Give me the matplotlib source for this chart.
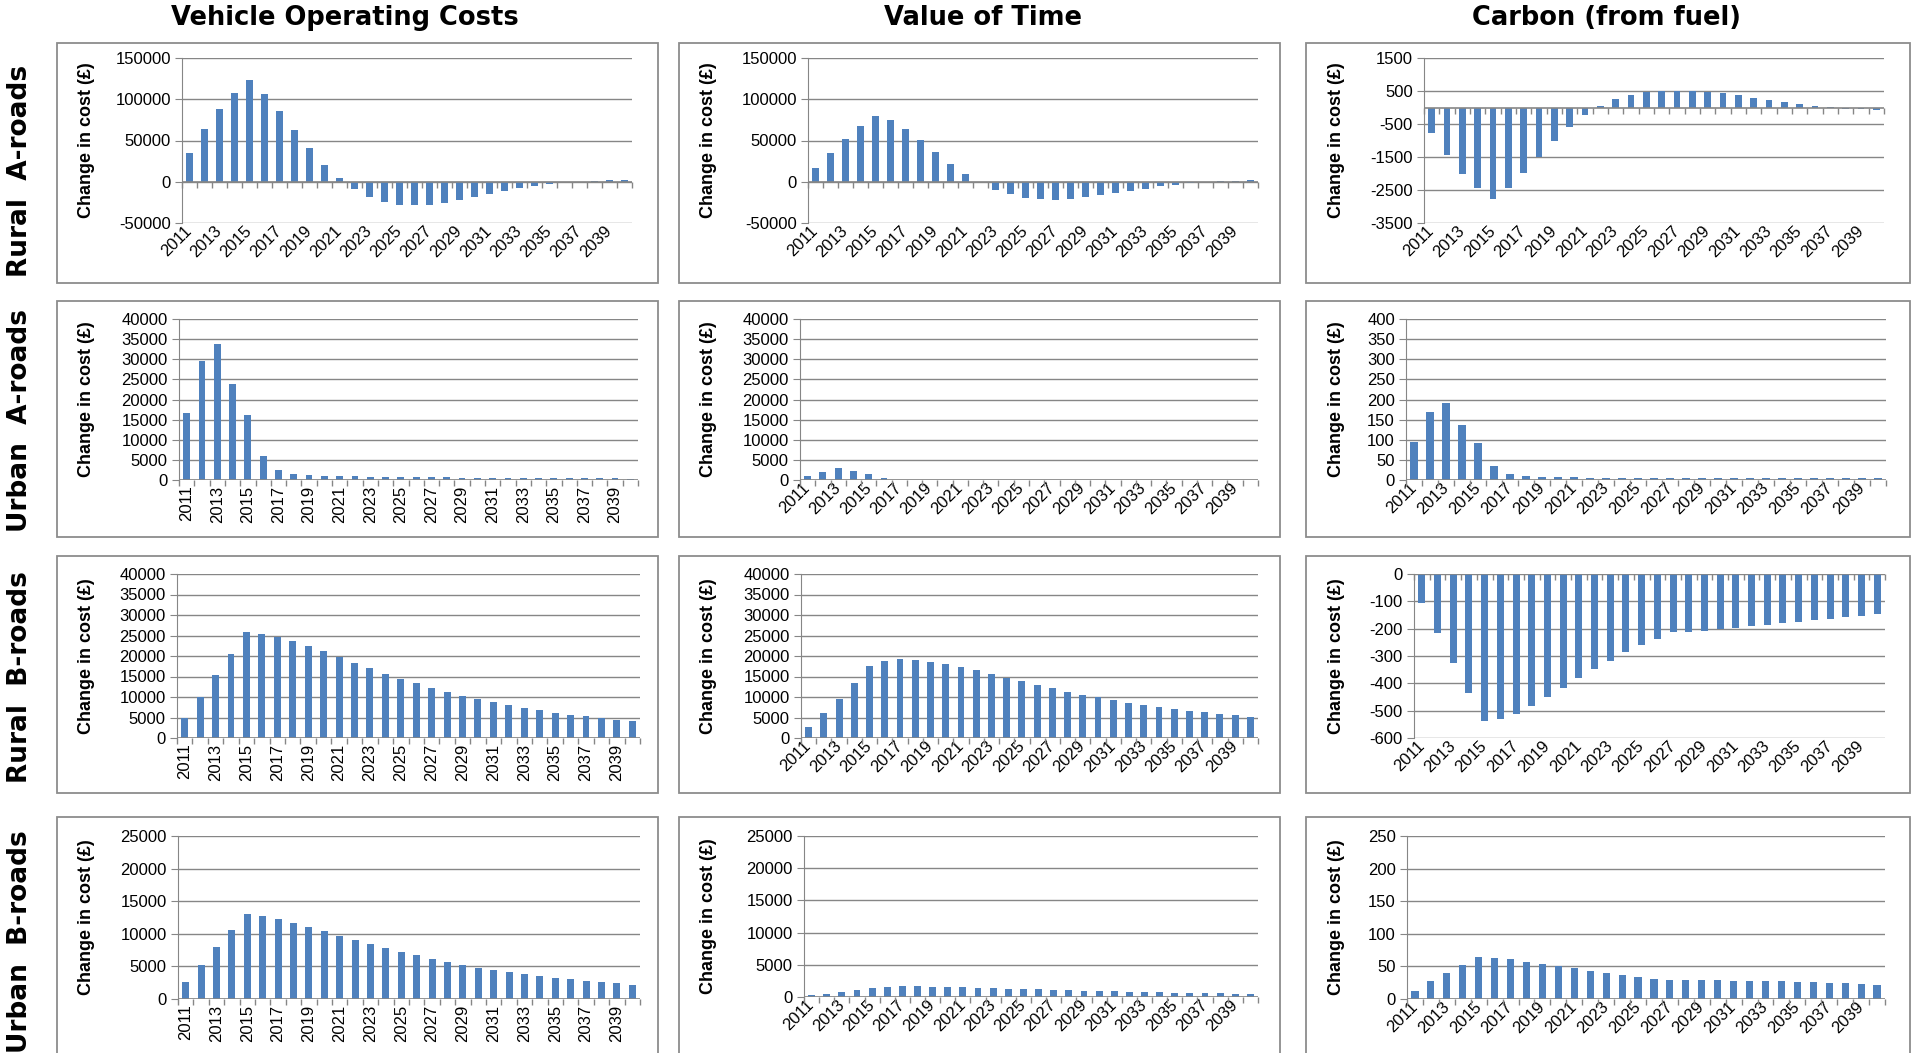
import matplotlib
matplotlib.use("Agg")
import matplotlib.pyplot as plt
import numpy as np
from matplotlib.patches import Rectangle
from matplotlib.ticker import FuncFormatter

plt.rcParams['axes.unicode_minus'] = False

# ---- data -------------------------------------------------------------
years = list(range(2011, 2041))

column_titles = ["Vehicle Operating Costs", "Value of Time", "Carbon (from fuel)"]
row_titles = ["Rural  A-roads", "Urban  A-roads", "Rural  B-roads", "Urban  B-roads"]
y_label = "Change in cost (£)"

voc_rural_a = [35100, 63700, 88200, 107300, 122900, 106100, 85300, 62400, 40400, 20800,
               4100, -8600, -18000, -24100, -27800, -28600, -27800, -25300, -22000, -18800,
               -14700, -11400, -7800, -5300, -2900, -800, 300, 1200, 2000, 2500]
vot_rural_a = [16700, 35100, 52200, 67300, 80000, 74700, 64500, 50600, 35900, 22000,
               9800, -300, -9400, -15100, -19200, -20800, -21600, -20400, -18400, -16300,
               -13500, -11000, -8200, -5700, -3700, -1600, 200, 500, 1200, 2000]
carbon_rural_a = [-760, -1450, -2000, -2440, -2770, -2440, -1990, -1500, -1020, -580,
                  -220, 50, 260, 380, 455, 500, 500, 485, 465, 425,
                  375, 300, 240, 170, 110, 45, 5, -35, -60, -90]

voc_urban_a = [16700, 29500, 33800, 23900, 16100, 5900, 2550, 1500, 1150, 1000,
               900, 900, 820, 780, 750, 700, 680, 650, 620, 600,
               570, 550, 520, 500, 480, 450, 420, 400, 380, 360]
vot_urban_a = [1000, 2100, 2900, 2300, 1600, 600, 100, 60, 50, 45,
               40, 38, 36, 34, 32, 30, 29, 28, 27, 26,
               25, 24, 23, 22, 21, 20, 19, 18, 17, 16]
carbon_urban_a = [95, 168, 191, 137, 92, 35, 16, 10, 8, 7,
                  7, 6, 6, 5, 5, 5, 5, 5, 5, 5,
                  5, 5, 5, 5, 4, 4, 4, 4, 4, 4]

voc_rural_b = [4900, 10100, 15400, 20500, 25800, 25400, 24700, 23600, 22400, 21100,
               19700, 18300, 17000, 15700, 14400, 13300, 12200, 11200, 10300, 9500,
               8700, 8100, 7400, 6800, 6200, 5700, 5300, 4800, 4400, 4100]
vot_rural_b = [2800, 6000, 9600, 13500, 17600, 18700, 19200, 19000, 18600, 18000,
               17300, 16500, 15600, 14600, 13800, 13000, 12200, 11300, 10600, 10000,
               9200, 8600, 8100, 7600, 7100, 6700, 6300, 5900, 5500, 5200]
carbon_rural_b = [-105, -215, -327, -435, -538, -531, -511, -482, -451, -416,
                  -382, -349, -317, -287, -261, -236, -212, -212, -208, -203,
                  -197, -191, -185, -180, -174, -169, -164, -158, -152, -145]

voc_urban_b = [2600, 5200, 7950, 10600, 13100, 12800, 12300, 11700, 11000, 10400,
               9700, 9100, 8450, 7850, 7200, 6700, 6100, 5700, 5200, 4800,
               4450, 4150, 3800, 3550, 3250, 3000, 2800, 2600, 2400, 2200]
vot_urban_b = [250, 500, 800, 1150, 1450, 1600, 1650, 1650, 1600, 1580,
               1500, 1450, 1400, 1300, 1250, 1180, 1120, 1050, 980, 920,
               870, 820, 770, 730, 690, 640, 600, 570, 540, 510]
carbon_urban_b = [13, 27, 40, 52, 65, 63, 61, 57, 54, 51,
                  47, 43, 40, 37, 34, 31, 29, 29, 29, 29,
                  28, 28, 27, 27, 26, 26, 25, 24, 23, 22]

# ---- styling ----------------------------------------------------------
BAR = "#4F81BD"
GRID = "#868686"
BOX = "#8C8C8C"
TICK_FONT = "Liberation Sans"

W, H = 1912, 1053
fig = plt.figure(figsize=(W / 100, H / 100), dpi=100)
fig.patch.set_facecolor("white")


def px_axes(l, t, r, b):
    return fig.add_axes([l / W, 1 - b / H, (r - l) / W, (b - t) / H])


def px_box(l, t, r, b):
    fig.add_artist(Rectangle((l / W, 1 - b / H), (r - l) / W, (b - t) / H,
                             transform=fig.transFigure, fill=False,
                             edgecolor=BOX, linewidth=1.3))


def draw_panel(rect, values, ymin, ymax, step, rot, ylab_px):
    l, t, r, b = rect
    ax = px_axes(l, t, r, b)
    ax.set_facecolor("none")
    x = np.arange(len(years))
    ax.bar(x, values, width=0.45, color=BAR, zorder=3)
    ax.set_xlim(-0.5, len(years) - 0.5)
    ax.set_ylim(ymin, ymax)
    ax.set_yticks(np.arange(ymin, ymax + step / 2, step))
    ax.yaxis.set_major_formatter(FuncFormatter(lambda v, p: f"{v:.0f}"))
    ax.grid(axis="y", color=GRID, linewidth=1)
    ax.set_axisbelow(True)
    for s in ["top", "right", "bottom"]:
        ax.spines[s].set_visible(False)
    ax.spines["left"].set_color(GRID)
    ax.tick_params(axis="y", length=5, color=GRID, labelsize=12, pad=3)
    for lab in ax.get_yticklabels():
        lab.set_family(TICK_FONT)

    ax.set_xticks(x[::2])
    ax.set_xticklabels([str(y) for y in years[::2]])
    ax.tick_params(axis="x", length=0, labelsize=12, pad=4)
    for lab in ax.get_xticklabels():
        lab.set_family(TICK_FONT)
        if rot == 45:
            lab.set_rotation(45)
            lab.set_ha("right")
            lab.set_va("center")
            lab.set_rotation_mode("anchor")
        else:
            lab.set_rotation(90)

    # category axis drawn through zero with tick marks between categories
    ax.axhline(0, color=GRID, linewidth=1.2, zorder=4)
    tick_len = (ymax - ymin) / (b - t) * 6
    bounds = np.arange(-0.5, len(years), 1.0)
    ax.vlines(bounds, -tick_len, 0, color=GRID, linewidth=1, zorder=4, clip_on=False)

    ax.set_ylabel(y_label, fontsize=13, fontweight="bold", family=TICK_FONT)
    ax.yaxis.set_label_coords((ylab_px - l) / (r - l), 0.5)
    return ax


# panel frames (pixels: left, top, right, bottom)
box_cols = [(57, 658), (679, 1280), (1306, 1910)]
box_rows = [(43, 283), (301, 537), (556, 793), (817, 1070)]
for (bt, bb) in box_rows:
    for (bl, br) in box_cols:
        px_box(bl, bt, br, bb)

plot_rects = [
    [(182, 58, 632, 223), (808, 58, 1258, 223), (1424, 58, 1884, 223)],
    [(179, 319, 638, 480), (800, 319, 1258, 480), (1406, 319, 1886, 480)],
    [(177, 574, 640, 738), (801, 574, 1258, 738), (1414, 574, 1885, 738)],
    [(178, 836, 640, 999), (804, 836, 1258, 997), (1407, 836, 1885, 999)],
]
ylab_cols = [95, 717, 1345]

panel_data = [
    [(voc_rural_a, -50000, 150000, 50000), (vot_rural_a, -50000, 150000, 50000), (carbon_rural_a, -3500, 1500, 1000)],
    [(voc_urban_a, 0, 40000, 5000), (vot_urban_a, 0, 40000, 5000), (carbon_urban_a, 0, 400, 50)],
    [(voc_rural_b, 0, 40000, 5000), (vot_rural_b, 0, 40000, 5000), (carbon_rural_b, -600, 0, 100)],
    [(voc_urban_b, 0, 25000, 5000), (vot_urban_b, 0, 25000, 5000), (carbon_urban_b, 0, 250, 50)],
]

for i in range(4):
    for j in range(3):
        vals, lo, hi, st = panel_data[i][j]
        rot = 90 if (j == 0 and i > 0) else 45
        draw_panel(plot_rects[i][j], vals, lo, hi, st, rot, ylab_cols[j])

# column headings
title_x = [345, 983, 1607]
for tx, txt in zip(title_x, column_titles):
    fig.text(tx / W, 1 - 18 / H, txt, ha="center", va="center",
             fontsize=18.5, fontweight="bold", family="DejaVu Sans")

# row headings
row_y = [171, 421, 677, 942]
for ry, txt in zip(row_y, row_titles):
    fig.text(20 / W, 1 - ry / H, txt, ha="center", va="center", rotation=90,
             fontsize=19, fontweight="bold", family="DejaVu Sans")

fig.savefig("out.png", dpi=100, facecolor="white")
